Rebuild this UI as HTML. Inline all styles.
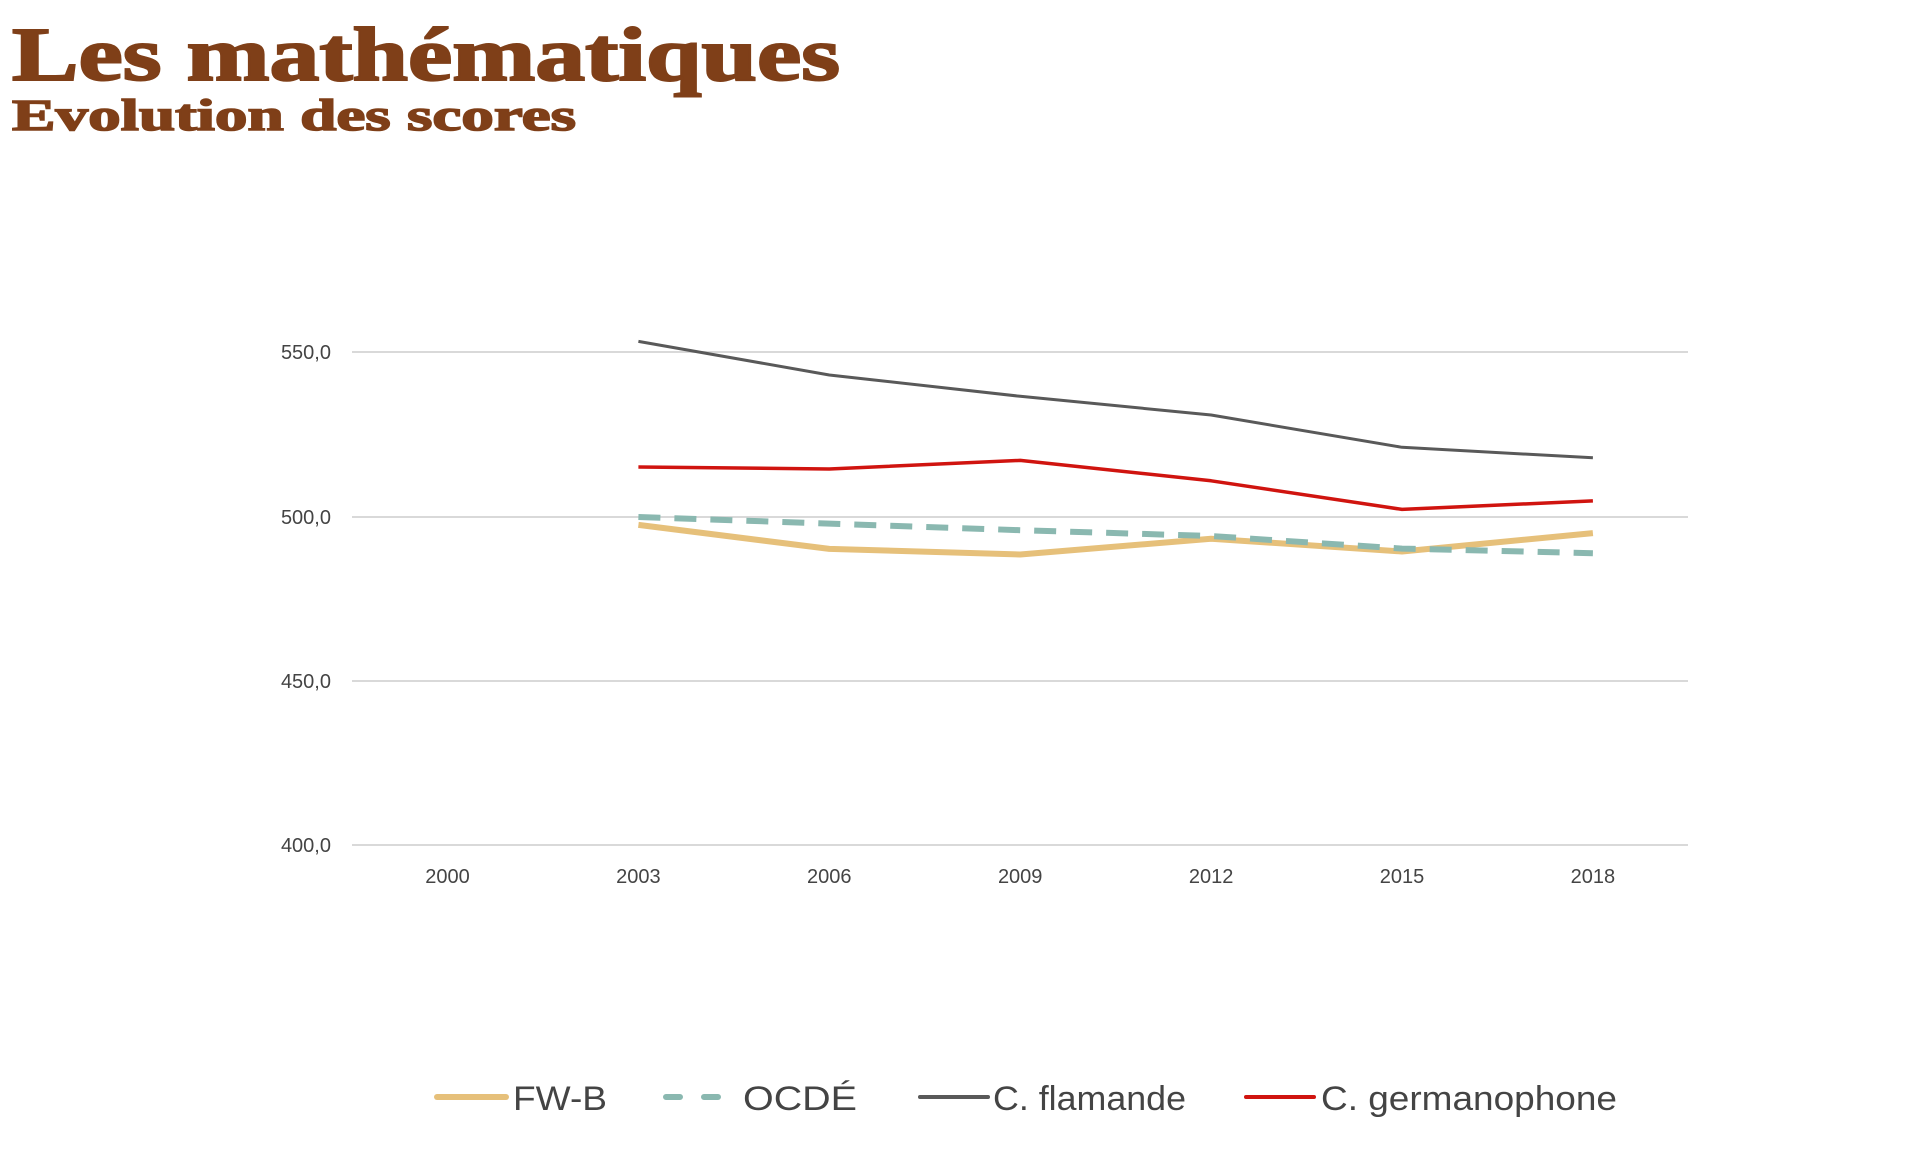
<!DOCTYPE html>
<html><head><meta charset="utf-8"><style>body{margin:0;background:#fff}svg{display:block}</style></head>
<body>
<svg width="1920" height="1165" viewBox="0 0 1920 1165" xmlns="http://www.w3.org/2000/svg">
<text x="12" y="80" font-family="Liberation Serif, serif" font-weight="bold" font-size="76" fill="#7f3f18" stroke="#7f3f18" stroke-width="2" textLength="828" lengthAdjust="spacingAndGlyphs">Les mathématiques</text>
<text x="12" y="130" font-family="Liberation Serif, serif" font-weight="bold" font-size="44" fill="#7f3f18" stroke="#7f3f18" stroke-width="1.5" textLength="564" lengthAdjust="spacingAndGlyphs">Evolution des scores</text>
<g stroke="#d9d9d9" stroke-width="2">
<line x1="352" y1="352" x2="1688" y2="352"/>
<line x1="352" y1="517" x2="1688" y2="517"/>
<line x1="352" y1="681" x2="1688" y2="681"/>
<line x1="352" y1="845" x2="1688" y2="845"/>
</g>
<g font-family="Liberation Sans, sans-serif" font-size="20" fill="#444" text-anchor="end">
<text x="331" y="359">550,0</text>
<text x="331" y="524">500,0</text>
<text x="331" y="688">450,0</text>
<text x="331" y="852">400,0</text>
</g>
<g font-family="Liberation Sans, sans-serif" font-size="20" fill="#444" text-anchor="middle">
<text x="447.5" y="883">2000</text><text x="638.4" y="883">2003</text><text x="829.3" y="883">2006</text>
<text x="1020.2" y="883">2009</text><text x="1211.1" y="883">2012</text><text x="1402" y="883">2015</text><text x="1592.9" y="883">2018</text>
</g>
<g fill="none" stroke-linejoin="round">
<polyline stroke="#e6c07a" stroke-width="6" points="638.4,524.9 829.3,548.9 1020.2,554.5 1211.1,538.7 1402,551.5 1592.9,533.1"/>
<polyline stroke="#8ab8b0" stroke-width="6" stroke-dasharray="22,14" points="638.4,517 829.3,523.6 1020.2,530.2 1211.1,536 1402,548.6 1592.9,553.2"/>
<polyline stroke="#595959" stroke-width="3" points="638.4,341.4 829.3,375 1020.2,396.3 1211.1,415 1402,447.3 1592.9,457.8"/>
<polyline stroke="#d0140f" stroke-width="3.5" points="638.4,467 829.3,469 1020.2,460.4 1211.1,480.8 1402,509.4 1592.9,500.9"/>
</g>
<g stroke-linecap="round">
<line x1="437" y1="1097" x2="506" y2="1097" stroke="#e6c07a" stroke-width="6"/>
<line x1="666" y1="1097" x2="734" y2="1097" stroke="#8ab8b0" stroke-width="6" stroke-dasharray="14,24"/>
<line x1="920" y1="1097" x2="988" y2="1097" stroke="#595959" stroke-width="4"/>
<line x1="1246" y1="1097" x2="1314" y2="1097" stroke="#d0140f" stroke-width="4"/>
</g>
<g font-family="Liberation Sans, sans-serif" font-size="34" fill="#444">
<text x="513" y="1110" textLength="94" lengthAdjust="spacingAndGlyphs">FW-B</text>
<text x="743" y="1110" textLength="114" lengthAdjust="spacingAndGlyphs">OCDÉ</text>
<text x="993" y="1110" textLength="193" lengthAdjust="spacingAndGlyphs">C. flamande</text>
<text x="1321" y="1110" textLength="296" lengthAdjust="spacingAndGlyphs">C. germanophone</text>
</g>
</svg>
</body></html>
